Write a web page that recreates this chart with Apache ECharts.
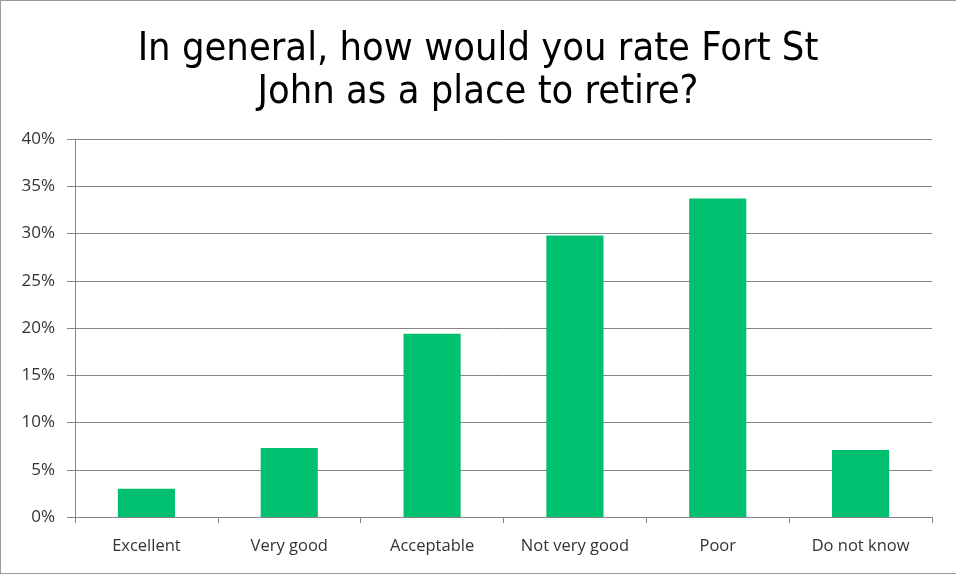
<!DOCTYPE html>
<html>
<head>
<meta charset="utf-8">
<script src="https://cdn.jsdelivr.net/npm/echarts@6/dist/echarts.min.js"></script>
<style>
html,body{margin:0;padding:0;background:#fff;overflow:hidden;}
#frame{position:absolute;left:0;top:0;width:960px;height:574px;border:1px solid #9a9a9a;box-sizing:border-box;}
#chart{position:absolute;left:0;top:0;width:956px;height:575px;}
</style>
</head>
<body>
<div id="frame"></div>
<div id="chart"></div>
<script>
const titleText = "In general, how would you rate Fort St\nJohn as a place to retire?";
const categories = ["Excellent", "Very good", "Acceptable", "Not very good", "Poor", "Do not know"];
const values = [3.0, 7.3, 19.4, 29.8, 33.7, 7.1];
const yTicks = [0, 5, 10, 15, 20, 25, 30, 35, 40];

const chart = echarts.init(document.getElementById('chart'), null, {renderer: 'canvas'});
chart.setOption({
  animation: false,
  backgroundColor: 'transparent',
  title: {
    text: titleText,
    left: 'center',
    top: 23,
    textStyle: {
      fontFamily: '"Liberation Sans Narrow", "Arial Narrow", "DejaVu Sans Condensed", sans-serif',
      fontSize: 39.5,
      fontWeight: 'normal',
      color: '#000',
      lineHeight: 43
    }
  },
  grid: {left: 75, right: 24, top: 139, bottom: 58, containLabel: false},
  xAxis: {
    type: 'category',
    data: categories,
    axisLine: {lineStyle: {color: '#868686', width: 1}},
    axisTick: {show: true, interval: 0, length: 6, lineStyle: {color: '#868686'}},
    axisLabel: {
      interval: 0,
      margin: 21,
      fontFamily: '"Open Sans", "Noto Sans", sans-serif',
      fontSize: 16.5,
      color: '#333'
    }
  },
  yAxis: {
    type: 'value',
    min: yTicks[0],
    max: yTicks[yTicks.length - 1],
    interval: 5,
    axisLine: {show: true, lineStyle: {color: '#868686', width: 1}},
    axisTick: {show: true, length: 8, lineStyle: {color: '#868686'}},
    splitLine: {lineStyle: {color: '#868686', width: 1}},
    axisLabel: {
      margin: 20,
      formatter: v => v + '%',
      fontFamily: '"Open Sans", "Noto Sans", sans-serif',
      fontSize: 17,
      color: '#333'
    }
  },
  series: [{
    type: 'bar',
    data: values,
    barWidth: '40%',
    itemStyle: {color: '#00BF6F'}
  }]
});
</script>
</body>
</html>
